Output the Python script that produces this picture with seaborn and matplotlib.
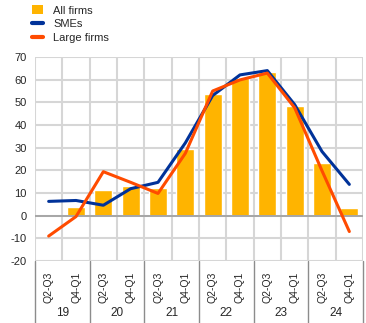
import numpy as np
import pandas as pd
import matplotlib
matplotlib.use("Agg")
import matplotlib.pyplot as plt
from matplotlib.lines import Line2D
from matplotlib.patches import Patch
import matplotlib.transforms as mtransforms
import seaborn as sns

# Half-year periods and survey values (net percentages)
periods = ["Q2-Q3", "Q4-Q1"] * 6
years = ["19", "20", "21", "22", "23", "24"]
all_firms = [0.0, 3.7, 11.2, 12.9, 12.0, 29.4, 53.7, 60.6, 63.2, 48.3, 23.4, 3.4]
smes = [6.3, 6.7, 4.6, 11.9, 14.7, 32.1, 53.0, 62.1, 64.0, 49.0, 28.3, 13.8]
large_firms = [-9.0, -0.4, 19.4, 14.7, 9.8, 27.5, 55.0, 59.9, 62.9, 47.6, 19.8, -7.0]

YELLOW = "#FFB400"
BLUE = "#003299"
ORANGE = "#FF4B00"
GRID = "#D6D6D6"

sns.set_theme(style="white")
plt.rcParams["font.family"] = ["Liberation Sans", "DejaVu Sans"]

df = pd.DataFrame({
    "idx": np.arange(len(all_firms)),
    "all": all_firms,
    "smes": smes,
    "large": large_firms,
})

fig = plt.figure(figsize=(3.66, 3.23), dpi=100)
ax = fig.add_axes([35 / 366, 62 / 323, 328 / 366, 204 / 323])

n = len(all_firms)
yt = np.arange(-20, 71, 10)

sns.barplot(data=df, x="idx", y="all", color=YELLOW, width=0.66,
            saturation=1, ax=ax, zorder=2)
sns.lineplot(x=df["idx"], y=df["smes"], color=BLUE, lw=2.2, ax=ax, zorder=4)
sns.lineplot(x=df["idx"], y=df["large"], color=ORANGE, lw=2.2, ax=ax, zorder=5)

ax.set_xlim(-0.5, n - 0.5)
ax.set_ylim(-20, 70)
ax.set_yticks(yt)
ax.set_yticklabels([str(v) for v in yt], fontsize=8)
ax.set_xlabel("")
ax.set_ylabel("")

# grid: horizontal at every 10, vertical at each period boundary
for v in yt:
    ax.axhline(v, color=GRID, lw=1.5, zorder=1)
for b in np.arange(-0.5, n, 1):
    ax.axvline(b, color=GRID, lw=1.5, zorder=1)
ax.axhline(0, color="#A6A6A6", lw=1.4, zorder=3)
for s in ax.spines.values():
    s.set_visible(False)
ax.tick_params(axis="both", which="both", length=0)
ax.tick_params(axis="y", pad=6)

ax.set_xticks(np.arange(n))
ax.set_xticklabels(periods, rotation=90, fontsize=7.5)
ax.tick_params(axis="x", pad=8)

# year labels and separators under the period labels
trans = mtransforms.blended_transform_factory(ax.transData, ax.transAxes)
for i, yr in enumerate(years):
    ax.text(2 * i + 0.5, -0.255, yr, transform=trans, ha="center",
            va="center", fontsize=8.5, clip_on=False)
for b in np.arange(-0.5, n, 2):
    ax.plot([b, b], [0, -0.31], transform=trans, color="#8C8C8C", lw=1.0,
            clip_on=False, zorder=5)

handles = [
    Patch(facecolor=YELLOW, edgecolor="none"),
    Line2D([], [], color=BLUE, lw=3),
    Line2D([], [], color=ORANGE, lw=3),
]
fig.legend(handles, ["All firms", "SMEs", "Large firms"], loc="upper left",
           bbox_to_anchor=(0.06, 1.015), frameon=False, fontsize=8,
           handlelength=1.0, handleheight=0.9, handletextpad=0.9,
           labelspacing=0.3)

fig.savefig("out.png", dpi=100)
